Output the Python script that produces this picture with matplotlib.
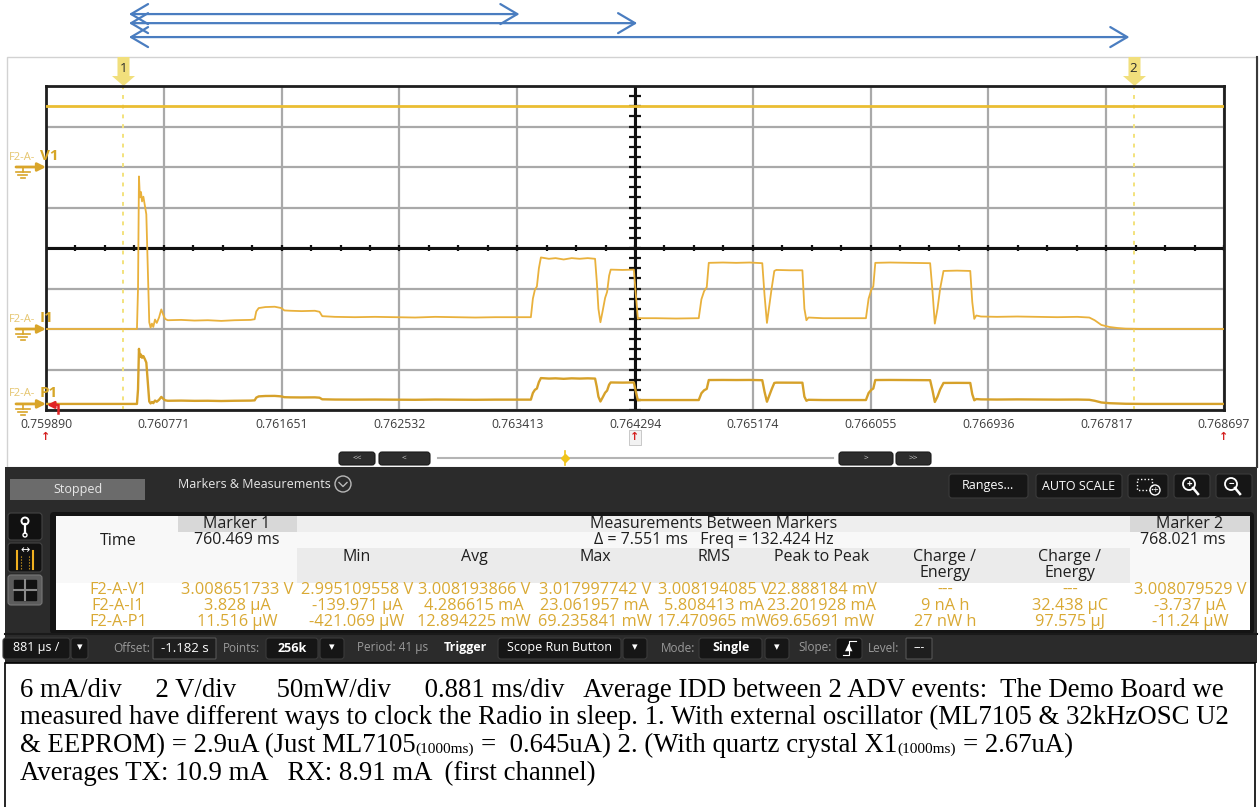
import matplotlib
matplotlib.use('Agg')
import matplotlib.pyplot as plt
from matplotlib.patches import Rectangle, FancyBboxPatch, Circle
from matplotlib.path import Path
import numpy as np

plt.rcParams['font.family'] = ['Open Sans', 'DejaVu Sans']

W, H = 1259, 807

# time axis (ms) and its labels (s)
tick_labels = ['0.759890', '0.760771', '0.761651', '0.762532', '0.763413', '0.764294',
               '0.765174', '0.766055', '0.766936', '0.767817', '0.768697']
marker_ms = [760.469, 768.021]
arrow_spans = [(760.51, 763.43), (760.51, 764.31), (760.51, 767.99)]

# F2-A-V1 supply voltage (V)
v1_time = [759.890, 768.697]
v1_volts = [3.008, 3.008]

# F2-A-I1 current (mA) and F2-A-P1 power (mW), same sample times
trace_time = [759.890, 760.570, 760.578, 760.585, 760.592, 760.600, 760.608, 760.618, 760.630, 760.640,
              760.652, 760.662, 760.672, 760.682, 760.692, 760.705, 760.718, 760.735, 760.752, 760.765,
              760.780, 760.800, 760.900, 761.000, 761.100, 761.200, 761.300, 761.420, 761.450, 761.462,
              761.480, 761.530, 761.600, 761.650, 761.672, 761.720, 761.800, 761.900, 761.935, 761.955,
              762.050, 762.200, 762.350, 762.500, 762.650, 762.800, 762.950, 763.100, 763.250, 763.400,
              763.515, 763.530, 763.545, 763.560, 763.575, 763.590, 763.650, 763.700, 763.760, 763.820,
              763.880, 763.940, 763.995, 764.008, 764.020, 764.035, 764.050, 764.070, 764.085, 764.100,
              764.112, 764.200, 764.285, 764.300, 764.315, 764.325, 764.450, 764.600, 764.770, 764.790,
              764.810, 764.830, 764.845, 764.950, 765.050, 765.150, 765.245, 765.262, 765.280, 765.298,
              765.315, 765.335, 765.350, 765.450, 765.545, 765.560, 765.575, 765.590, 765.700, 765.850,
              766.020, 766.040, 766.060, 766.075, 766.090, 766.200, 766.350, 766.500, 766.518, 766.535,
              766.555, 766.575, 766.600, 766.700, 766.800, 766.815, 766.830, 766.845, 766.880, 767.000,
              767.150, 767.300, 767.450, 767.600, 767.690, 767.730, 767.780, 767.840, 767.900, 767.960,
              768.100, 768.697]
i1_ma = [0.0, 0.0, 6.0, 22.6, 19.5, 20.3, 18.9, 19.6, 18.2, 17.0,
         8.0, 1.0, 0.2, 0.8, 0.3, 1.4, 0.9, 1.7, 2.9, 2.2,
         1.5, 1.3, 1.35, 1.25, 1.3, 1.2, 1.3, 1.35, 1.45, 2.6,
         3.1, 3.25, 3.3, 3.1, 2.75, 2.7, 2.65, 2.7, 2.55, 1.9,
         1.8, 1.75, 1.8, 1.75, 1.7, 1.8, 1.75, 1.7, 1.75, 1.75,
         1.75, 4.5, 5.8, 6.3, 9.0, 10.6, 10.4, 10.5, 10.3, 10.5,
         10.4, 10.5, 10.4, 7.0, 3.0, 1.0, 2.5, 4.6, 5.5, 7.9,
         8.8, 8.75, 8.8, 5.0, 1.5, 1.6, 1.6, 1.55, 1.6, 4.4,
         5.6, 6.2, 9.8, 9.85, 9.8, 9.85, 9.75, 5.0, 0.9, 3.5,
         6.0, 8.6, 8.75, 8.7, 8.7, 3.0, 1.3, 1.7, 1.6, 1.6,
         1.6, 4.5, 5.8, 6.3, 9.8, 9.85, 9.8, 9.75, 5.5, 0.8,
         3.0, 6.0, 8.6, 8.65, 8.6, 4.0, 1.5, 2.0, 1.85, 1.8,
         1.85, 1.8, 1.75, 1.8, 1.7, 1.3, 0.6, 0.3, 0.15, 0.05,
         0.0, 0.0]
p1_mw = [0.0, 0.0, 18.0, 68.0, 58.0, 61.0, 57.0, 59.0, 55.0, 51.0,
         24.0, 3.0, 0.6, 2.4, 0.9, 4.2, 2.7, 5.1, 8.7, 6.6,
         4.5, 3.9, 4.1, 3.8, 3.9, 3.6, 3.9, 4.1, 4.4, 7.8,
         9.3, 9.8, 9.9, 9.3, 8.3, 8.1, 8.0, 8.1, 7.7, 5.7,
         5.4, 5.3, 5.4, 5.3, 5.1, 5.4, 5.3, 5.1, 5.3, 5.3,
         5.3, 13.5, 17.4, 19.0, 27.0, 31.9, 31.3, 31.6, 31.0, 31.6,
         31.3, 31.6, 31.3, 21.0, 9.0, 3.0, 7.5, 13.8, 16.5, 23.8,
         26.5, 26.3, 26.5, 15.0, 4.5, 4.8, 4.8, 4.7, 4.8, 13.2,
         16.8, 18.6, 29.5, 29.6, 29.5, 29.6, 29.3, 15.0, 2.7, 10.5,
         18.0, 25.9, 26.3, 26.2, 26.2, 9.0, 3.9, 5.1, 4.8, 4.8,
         4.8, 13.5, 17.4, 19.0, 29.5, 29.6, 29.5, 29.3, 16.5, 2.4,
         9.0, 18.0, 25.9, 26.0, 25.9, 12.0, 4.5, 6.0, 5.6, 5.4,
         5.6, 5.4, 5.3, 5.4, 5.1, 3.9, 1.8, 0.9, 0.5, 0.2,
         0.0, 0.0]

# measurement table
col_heads = ['Min', 'Avg', 'Max', 'RMS', 'Peak to Peak', 'Charge /\nEnergy', 'Charge /\nEnergy']
row_names = ['F2-A-V1', 'F2-A-I1', 'F2-A-P1']
v1_row = ['3.008651733 V', '2.995109558 V', '3.008193866 V', '3.017997742 V', '3.008194085 V',
          '22.888184 mV', '---', '---', '3.008079529 V']
i1_row = ['3.828 µA', '-139.971 µA', '4.286615 mA', '23.061957 mA', '5.808413 mA',
          '23.201928 mA', '9 nA h', '32.438 µC', '-3.737 µA']
p1_row = ['11.516 µW', '-421.069 µW', '12.894225 mW', '69.235841 mW', '17.470965 mW',
          '69.65691 mW', '27 nW h', '97.575 µJ', '-11.24 µW']

GOLD = '#d9a934'

fig = plt.figure(figsize=(W / 100, H / 100), dpi=100)

# pixel-space layers for the instrument chrome (below and above the screen)
ui = fig.add_axes([0, 0, 1, 1], label='ui')
top = fig.add_axes([0, 0, 1, 1], label='top')
for layer, z in [(ui, 0), (top, 6)]:
    layer.set_xlim(0, W)
    layer.set_ylim(H, 0)
    layer.axis('off')
    layer.set_zorder(z)
top.patch.set_visible(False)


def px_rect(x0, y0, x1, y1):
    return [x0 / W, 1 - y1 / H, (x1 - x0) / W, (y1 - y0) / H]


def button(x0, y0, x1, y1, fc='#161616', ec='#3a3a3a', r=3):
    ui.add_patch(FancyBboxPatch((x0, y0), x1 - x0, y1 - y0,
                                boxstyle=f'round,pad=0,rounding_size={r}',
                                fc=fc, ec=ec, lw=0.8))


# scope screen background
ui.add_patch(Rectangle((7, 57), 1250, 410, fc='white', ec='#d2d2d2', lw=1))
ui.plot([1257, 1257], [57, 467], color='#3a3a3a', lw=1.5)

# ---- waveform area ----
rect = px_rect(46, 86, 1224, 410)
ax = fig.add_axes(rect, label='grid')
ax.set_zorder(2)
t0, t1 = float(tick_labels[0]) * 1000, float(tick_labels[-1]) * 1000
ticks = [float(s) * 1000 for s in tick_labels]
ax.set_xlim(t0, t1)
ax.set_ylim(0, 8)
ax.set_xticks(ticks)
ax.set_xticklabels(tick_labels)
ax.set_yticks(range(9))
ax.set_yticklabels([])
ax.tick_params(length=0, pad=6, labelsize=8.8, labelcolor='#3c3c3c')
ax.grid(True, color='#a9a9a9', lw=1.6)
for s in ax.spines.values():
    s.set_color('#1e1e1e')
    s.set_linewidth(2)
tc = ticks[5]
ax.axhline(4, color='#111111', lw=2.2)
ax.axvline(tc, color='#111111', lw=2.2)
ax.plot(np.linspace(t0, t1, 41), [4] * 41, ls='none', marker='|', ms=5, mew=1.6, color='#111111')
ax.plot([tc] * 33, np.linspace(0, 8, 33), ls='none', marker='_', ms=8, mew=1.6, color='#111111')

# markers
xt = ax.get_xaxis_transform()
flag = Path([(-6, 14.5), (6, 14.5), (6, -4.5), (11.5, -4.5), (0, -14.5), (-11.5, -4.5), (-6, -4.5), (-6, 14.5)],
            [Path.MOVETO] + [Path.LINETO] * 6 + [Path.CLOSEPOLY])
for k, m in enumerate(marker_ms):
    ax.axvline(m, color='#f3e27c', lw=1.4, ls=(0, (2, 3)))
    ax.plot([m], [1.0448], marker=flag, ms=20.9, color='#f1df7c', mew=0, transform=xt, clip_on=False)
    ax.text(m, 1.054, str(k + 1), transform=xt, ha='center', va='center', fontsize=9.5, color='#2a2a2a')

# spans drawn above the screen
for (a, b), yf in zip(arrow_spans, [1.222, 1.194, 1.151]):
    ax.annotate('', xy=(b, yf), xytext=(a, yf), xycoords=xt, textcoords=xt, annotation_clip=False,
                arrowprops=dict(arrowstyle='<->,head_length=0.61,head_width=0.36', color='#4a7dc0',
                                lw=1.6, mutation_scale=20, shrinkA=0, shrinkB=0))

# channel traces, each on its own vertical scale
channels = []
for name, lo, hi in [('V1', -12, 4), ('I1', -12, 36), ('P1', -7.5, 392.5)]:
    c = fig.add_axes(rect, label=name, sharex=ax)
    c.set_ylim(lo, hi)
    c.axis('off')
    c.patch.set_visible(False)
    c.set_zorder(3)
    channels.append(c)
ax_v, ax_i, ax_p = channels
ax_v.plot(v1_time, v1_volts, color='#eabd32', lw=2)
ax_i.plot(trace_time, i1_ma, color='#e9b13c', lw=1.3)
ax_p.plot(trace_time, p1_mw, color='#d6a12a', lw=1.7)

# channel names and ground indicators
to_ui = top.transData.inverted()
for c, short in zip(channels, ['V1', 'I1', 'P1']):
    gy = to_ui.transform(c.transData.transform((t0, 0)))[1]
    top.text(9, gy - 10, 'F2-A-', fontsize=8, color='#e5c56e', va='center')
    top.text(40, gy - 11, short, fontsize=11, fontweight='bold', color='#d6a628', va='center')
    top.annotate('', xy=(46, gy), xytext=(16, gy),
                 arrowprops=dict(arrowstyle='-|>', color='#d9a52a', lw=2, mutation_scale=12,
                                 shrinkA=0, shrinkB=0))
    top.plot([23, 23], [gy, gy + 5], color='#d9a52a', lw=1.2)
    for dx, dy in [(7, 5), (4.5, 8), (2, 11)]:
        top.plot([23 - dx, 23 + dx], [gy + dy, gy + dy], color='#d9a52a', lw=1.2)
    if short == 'P1':
        # red trigger-position tag on the power trace
        top.annotate('', xy=(47, gy + 1), xytext=(58, gy + 1),
                     arrowprops=dict(arrowstyle='-|>', color='#e02424', lw=1.8, mutation_scale=10,
                                     shrinkA=0, shrinkB=0))
        top.plot([58, 58], [gy + 1, gy + 9], color='#e02424', lw=1.8)

for xf, boxed in [(0, False), (0.5, True), (1, False)]:
    ax.text(xf, -0.085, '↑', transform=ax.transAxes, ha='center', va='center', fontsize=8,
            fontweight='bold', color='#d42020',
            bbox=dict(boxstyle='square,pad=0.15', fc='#f2f2f2', ec='#c0c0c0', lw=0.6) if boxed else None)

# scroll bar
for x0, x1, lab in [(339, 375, '<<'), (379, 430, '<'), (839, 893, '>'), (896, 931, '>>')]:
    button(x0, 452, x1, 465, fc='#2c2c2c', ec='#1a1a1a', r=3)
    ui.text((x0 + x1) / 2, 458.5, lab, fontsize=6, color='#d0d0d0', ha='center', va='center')
ui.plot([438, 833], [458, 458], color='#b4b4b4', lw=1.5)
ui.plot([565, 565], [451, 465], color='#f0c419', lw=1.2)
ui.plot([565], [458], marker='D', ms=4, color='#f0c419')

# ---- control panel ----
ui.add_patch(Rectangle((5, 467), 1252, 196, fc='#2b2b2b', ec='none'))
ui.add_patch(Rectangle((10, 479), 135, 21, fc='#6b6b6b', ec='none'))
ui.text(78, 490, 'Stopped', fontsize=9, color='#e8e8e8', ha='center', va='center')
ui.text(178, 484, 'Markers & Measurements', fontsize=9, color='#e8e8e8', va='center')
ui.add_patch(Circle((343, 484), 8, fill=False, ec='#b8b8b8', lw=1))
ui.plot([339, 343, 347], [482.5, 486.5, 482.5], color='#b8b8b8', lw=1)

button(949, 474, 1028, 498)
ui.text(988, 486, 'Ranges...', fontsize=9, color='white', ha='center', va='center')
button(1036, 474, 1122, 498)
ui.text(1079, 486, 'AUTO SCALE', fontsize=9, color='white', ha='center', va='center')
for x0, x1 in [(1128, 1168), (1174, 1210), (1216, 1252)]:
    button(x0, 474, x1, 498)
ui.add_patch(Rectangle((1137, 479), 15, 11, fill=False, ec='white', lw=1, ls=(0, (1, 1.5))))
ui.add_patch(Circle((1155, 490), 5, fill=False, ec='white', lw=1))
ui.text(1155, 490, '+', fontsize=7, color='white', ha='center', va='center')
for cx, sym in [(1189, '+'), (1231, '−')]:
    ui.add_patch(Circle((cx, 484), 6, fill=False, ec='white', lw=1.3))
    ui.plot([cx + 4, cx + 9], [488, 494], color='white', lw=1.8)
    ui.text(cx, 484, sym, fontsize=7, color='white', ha='center', va='center', fontweight='bold')

# side icons
ui.add_patch(FancyBboxPatch((8, 513), 34, 27, boxstyle='round,pad=0,rounding_size=3', fc='#111111', ec='#444444', lw=0.8))
ui.add_patch(Circle((25, 521), 3.5, fill=False, ec='white', lw=1.4))
ui.plot([25, 25], [524, 533], color='white', lw=1.6)
ui.add_patch(Circle((25, 535), 2, fill=False, ec='white', lw=1))
ui.add_patch(FancyBboxPatch((8, 543), 34, 29, boxstyle='round,pad=0,rounding_size=3', fc='#111111', ec='#444444', lw=0.8))
ui.text(25, 551, '↔', fontsize=8, color='white', ha='center', va='center')
for xx in (17, 33):
    ui.plot([xx, xx], [551, 569], color='#f0b020', lw=1.5)
ui.plot([21, 21], [556, 569], color='#f0b020', lw=0.8, ls=':')
ui.plot([29, 29], [556, 569], color='#f0b020', lw=0.8, ls=':')
ui.add_patch(FancyBboxPatch((8, 575), 34, 30, boxstyle='round,pad=0,rounding_size=3', fc='#5c5c5c', ec='#777777', lw=0.8))
ui.add_patch(Rectangle((14, 580), 22, 20, fc='#111111', ec='#111111'))
ui.plot([25, 25], [580, 600], color='#8a8a8a', lw=1.5)
ui.plot([14, 36], [590, 590], color='#8a8a8a', lw=1.5)

# measurement table
ui.add_patch(FancyBboxPatch((50, 512), 1204, 122, boxstyle='round,pad=0,rounding_size=4', fc='#141414', ec='none'))
inner = Rectangle((56, 516), 1194, 114, fc='#f8f8f8', ec='none')
ui.add_patch(inner)
ui.add_patch(Rectangle((297, 516), 833, 16, fc='#eeeeee', ec='none'))
ui.add_patch(Rectangle((178, 516), 119, 16, fc='#d8d8d8', ec='none'))
ui.add_patch(Rectangle((1130, 516), 120, 16, fc='#d8d8d8', ec='none'))
ui.add_patch(Rectangle((297, 548), 833, 35, fc='#ebebeb', ec='none'))
ui.add_patch(Rectangle((56, 583), 1194, 47, fc='white', ec='none'))

col_x = [237, 357, 474, 595, 714, 822, 945, 1070, 1190]
tkw = dict(fontsize=11.5, ha='center', va='center', color='#1e1e1e')
ui.text(237, 524, 'Marker 1', **tkw)
ui.text(714, 524, 'Measurements Between Markers', **tkw)
ui.text(1190, 524, 'Marker 2', **tkw)
ui.text(118, 541, 'Time', **tkw)
ui.text(237, 540, '760.469 ms', **tkw)
ui.text(714, 540, 'Δ = 7.551 ms   Freq = 132.424 Hz', **tkw)
ui.text(1183, 540, '768.021 ms', **tkw)
for x, head in zip(col_x[1:8], col_heads):
    ui.text(x, 557 if '\n' not in head else 565, head, linespacing=1.0, **tkw)
for y, name, vals in zip([590, 606, 622], row_names, [v1_row, i1_row, p1_row]):
    ui.text(118, y, name, fontsize=11.8, ha='center', va='center', color=GOLD)
    for x, v in zip(col_x, vals):
        t = ui.text(x, y, v, fontsize=11.8, ha='center', va='center', color=GOLD)
        t.set_clip_path(inner)

# timebase / trigger toolbar
ui.plot([5, 1257], [634, 634], color='#1a1a1a', lw=1.5)
bar_y = 648
button(3, 638, 70, 659)
ui.text(36, bar_y, '881 µs /', fontsize=9, color='white', ha='center', va='center')
button(71, 638, 88, 659)
ui.text(79.5, bar_y, '▾', fontsize=8, color='white', ha='center', va='center')
ui.text(132, bar_y, 'Offset:', fontsize=8.5, color='#9a9a9a', ha='center', va='center')
button(153, 638, 216, 659, fc='#1e1e1e', ec='#555555', r=1)
ui.text(185, bar_y, '-1.182 s', fontsize=9.5, color='white', ha='center', va='center')
ui.text(241, bar_y, 'Points:', fontsize=8.5, color='#9a9a9a', ha='center', va='center')
button(266, 638, 318, 659)
ui.text(292, bar_y, '256k', fontsize=9, color='white', ha='center', va='center', fontweight='bold')
button(320, 638, 344, 659)
ui.text(332, bar_y, '▾', fontsize=8, color='white', ha='center', va='center')
ui.text(393, bar_y, 'Period: 41 µs', fontsize=8.5, color='#9a9a9a', ha='center', va='center')
ui.text(465, bar_y, 'Trigger', fontsize=9, color='white', ha='center', va='center', fontweight='bold')
button(498, 638, 621, 659)
ui.text(560, bar_y, 'Scope Run Button', fontsize=9, color='white', ha='center', va='center')
button(623, 638, 647, 659)
ui.text(635, bar_y, '▾', fontsize=8, color='white', ha='center', va='center')
ui.text(678, bar_y, 'Mode:', fontsize=8.5, color='#9a9a9a', ha='center', va='center')
button(699, 638, 762, 659)
ui.text(731, bar_y, 'Single', fontsize=9, color='white', ha='center', va='center', fontweight='bold')
button(765, 638, 789, 659)
ui.text(777, bar_y, '▾', fontsize=8, color='white', ha='center', va='center')
ui.text(815, bar_y, 'Slope:', fontsize=8.5, color='#9a9a9a', ha='center', va='center')
button(836, 638, 862, 659, fc='#111111')
ui.text(849, bar_y - 1, '▲', fontsize=7, color='white', ha='center', va='center')
ui.plot([843, 849, 849, 856], [655, 655, 641, 641], color='white', lw=0.8)
ui.text(884, bar_y, 'Level:', fontsize=8.5, color='#9a9a9a', ha='center', va='center')
button(906, 638, 932, 659, fc='#1e1e1e', ec='#555555', r=1)
ui.text(919, bar_y, '---', fontsize=8.5, color='white', ha='center', va='center')

# ---- notes box ----
ui.add_patch(Rectangle((5, 663), 1250, 150, fc='white', ec='black', lw=1.2))
serif = dict(family='Liberation Serif', color='black', va='baseline', ha='left')
rend = fig.canvas.get_renderer()


def run_text(x, y, parts):
    for txt, size, dy, gap in parts:
        t = ui.text(x + gap, y + dy, txt, fontsize=size, **serif)
        x = x + gap + t.get_window_extent(rend).width


FS = 19.3
SUB = 11
ui.text(20, 697, '6 mA/div     2 V/div      50mW/div     0.881 ms/div   Average IDD between 2 ADV events:  '
        'The Demo Board we', fontsize=FS, **serif)
ui.text(20, 724.5, 'measured have different ways to clock the Radio in sleep. 1. With external oscillator '
        '(ML7105 & 32kHzOSC U2', fontsize=FS, **serif)
run_text(20, 752, [('& EEPROM) = 2.9uA (Just ML7105', FS, 0, 0), ('(1000ms)', SUB, 1, 0),
                   ('=  0.645uA) 2. (With quartz crystal X1', FS, 0, 7), ('(1000ms)', SUB, 1, 0),
                   ('= 2.67uA)', FS, 0, 7)])
ui.text(20, 779.5, 'Averages TX: 10.9 mA   RX: 8.91 mA  (first channel)', fontsize=FS, **serif)

fig.savefig('out.png', dpi=100)
